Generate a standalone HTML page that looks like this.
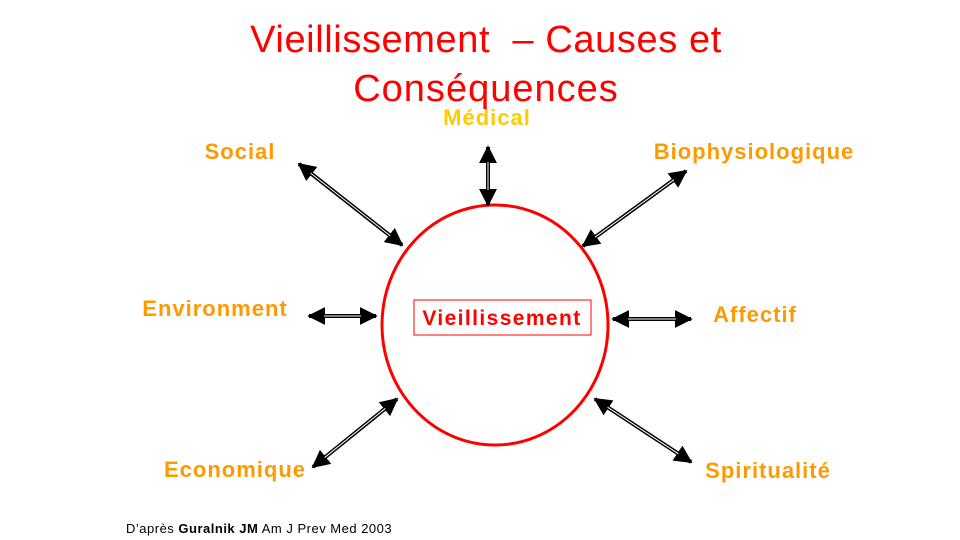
<!DOCTYPE html>
<html><head><meta charset="utf-8"><style>
body{margin:0;width:960px;height:540px;background:#fff;overflow:hidden;font-family:"Liberation Sans",sans-serif}
</style></head><body>
<svg width="960" height="540" viewBox="0 0 960 540" style="position:absolute;left:0;top:0">
<defs>
<marker id="ah" viewBox="0 0 10 10" refX="9" refY="5" markerWidth="4.5" markerHeight="4.5" markerUnits="strokeWidth" orient="auto-start-reverse"><path d="M0,0 L10,5 L0,10 z" fill="#000"/></marker>
</defs>
<text x="486" y="52" text-anchor="middle" font-size="38" letter-spacing="0.6" fill="#f00" xml:space="preserve">Vieillissement  – Causes et</text>
<text x="486" y="101" text-anchor="middle" font-size="38" letter-spacing="1" fill="#f00">Conséquences</text>
<ellipse cx="495" cy="325" rx="113" ry="120" fill="none" stroke="#f00" stroke-width="3"/>
<rect x="414" y="300" width="177" height="35" fill="#fff" stroke="#f00" stroke-width="1"/>
<text x="502" y="325" text-anchor="middle" font-size="21" letter-spacing="1.4" font-weight="bold" fill="#f00">Vieillissement</text>
<g id="arrows"></g>
<g font-size="22" letter-spacing="1" font-weight="bold" fill="#f90">
<text x="487" y="125" text-anchor="middle" fill="#fc0">Médical</text>
<text x="240" y="159" text-anchor="middle">Social</text>
<text x="754" y="159" text-anchor="middle">Biophysiologique</text>
<text x="215" y="316" text-anchor="middle">Environment</text>
<text x="755" y="322" text-anchor="middle">Affectif</text>
<text x="235" y="477" text-anchor="middle">Economique</text>
<text x="768" y="478" text-anchor="middle">Spiritualité</text>
</g>
<text x="126" y="533" font-size="13" letter-spacing="0.5" fill="#000">D’après <tspan font-weight="bold">Guralnik JM</tspan> Am J Prev Med 2003</text>
</svg>
<script>
const arrowNames=['social','medical','bio','environment','affectif','economique','spiritualite'];
const arrowPts=[[299,164,402,245],[488,147,488,205],[686,171,583,246],[309,316,376,316],[613,319,691,319],[313,467,397,399],[595,399,691,462]];
const g=document.getElementById('arrows');
const NS='http://www.w3.org/2000/svg';
arrowPts.forEach((p,i)=>{
  const l=document.createElementNS(NS,'line');
  
  
  l.setAttribute('x1',p[0]);l.setAttribute('y1',p[1]);l.setAttribute('x2',p[2]);l.setAttribute('y2',p[3]);
  l.setAttribute('stroke','#000');l.setAttribute('stroke-width','4');
  l.setAttribute('marker-start','url(#ah)');l.setAttribute('marker-end','url(#ah)');
  g.appendChild(l);
  const dx=p[2]-p[0],dy=p[3]-p[1],len=Math.hypot(dx,dy),ux=dx/len,uy=dy/len;
  const w=document.createElementNS(NS,'line');
  
  
  w.setAttribute('x1',p[0]+ux*15);w.setAttribute('y1',p[1]+uy*15);w.setAttribute('x2',p[2]-ux*15);w.setAttribute('y2',p[3]-uy*15);
  w.setAttribute('stroke','#fff');w.setAttribute('stroke-width','1');
  g.appendChild(w);
});
</script>
</body></html>
